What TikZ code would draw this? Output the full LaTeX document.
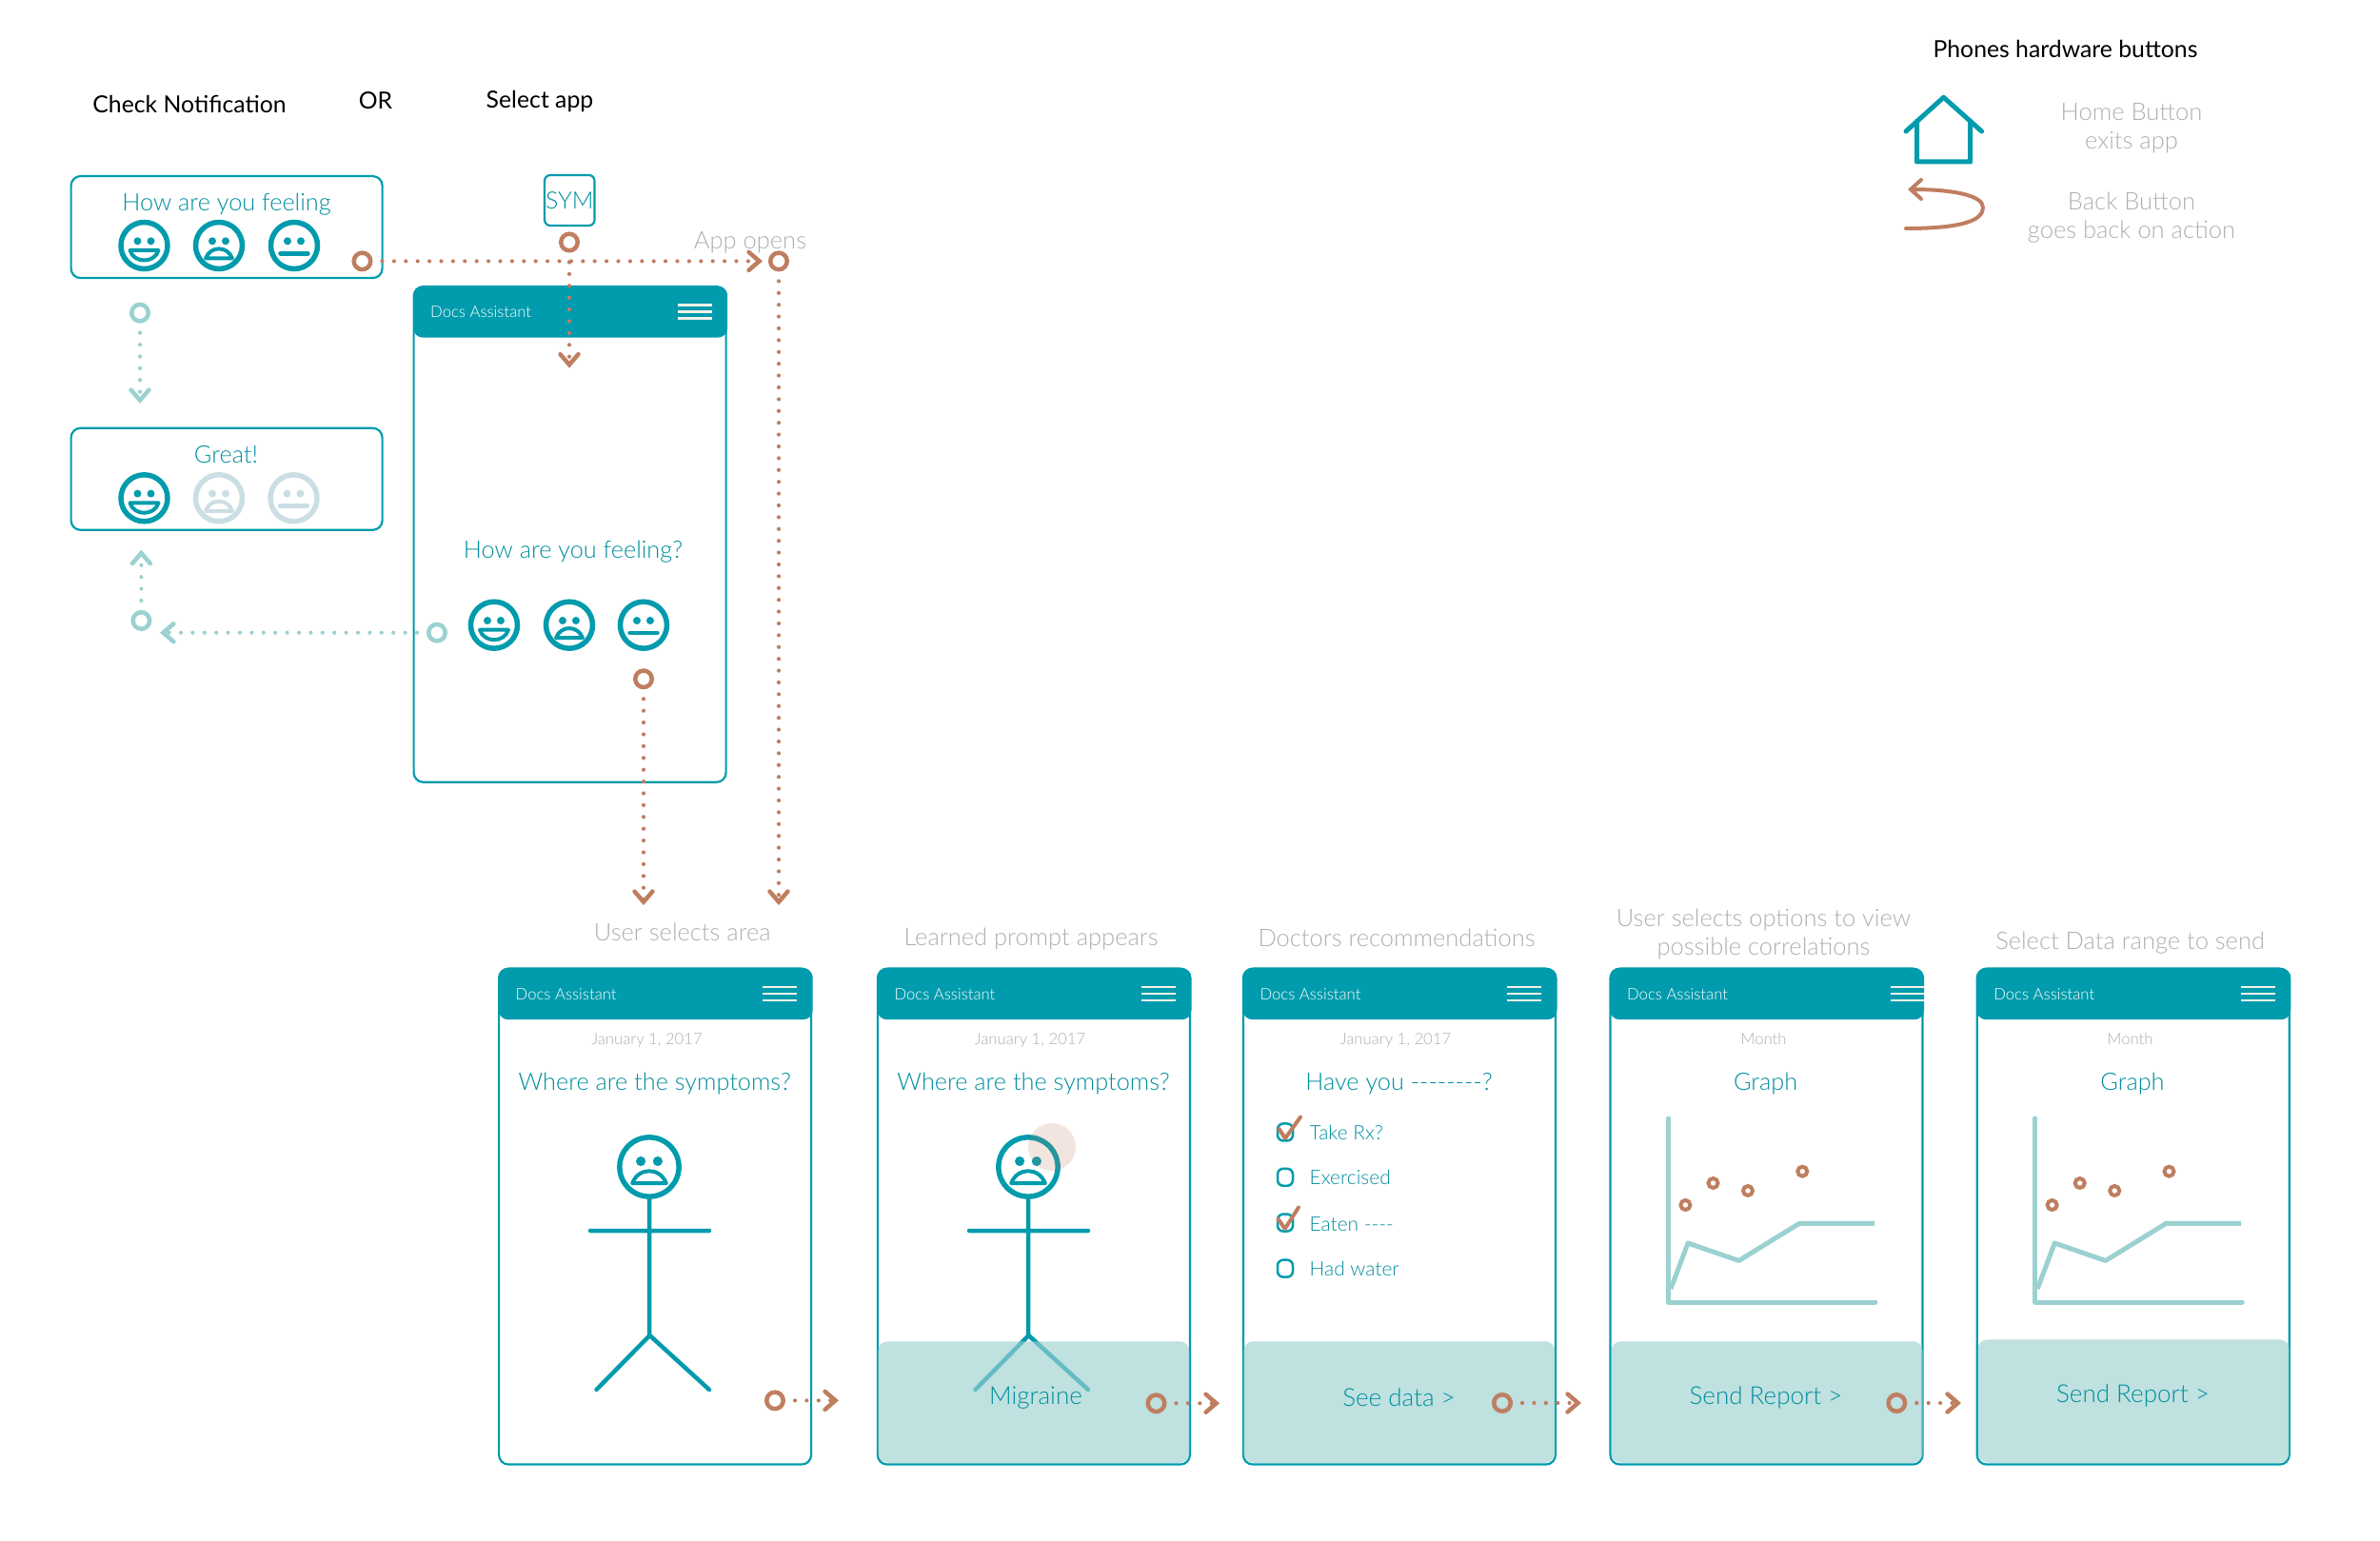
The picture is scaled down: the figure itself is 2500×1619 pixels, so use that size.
\documentclass[tikz,border=0pt]{standalone}
\usepackage{fontspec}
\setmainfont{Lato}[UprightFont=* Light]
\newfontfamily\headfont{Lato}
\usetikzlibrary{positioning,calc,arrows.meta}

\definecolor{appteal}{HTML}{009BAC}
\definecolor{apptext}{HTML}{008E9E}
\definecolor{appbrown}{HTML}{BF7E60}
\definecolor{applight}{HTML}{9BD1D0}
\definecolor{appgray}{HTML}{ABB0B4}
\definecolor{appfade}{HTML}{CBDEE4}
\definecolor{appcream}{HTML}{F4F1E8}

\tikzset{
  phonebody/.style={draw=appteal,line width=.22mm,rounded corners=1mm,fill=white,anchor=north west,minimum width=32.8mm,inner sep=0},
  phonehead/.style={fill=appteal,rounded corners=1mm,anchor=north west,minimum width=33mm,minimum height=5.4mm,inner sep=0},
  panel/.style={fill=applight,fill opacity=.64,rounded corners=1mm,anchor=south east,minimum width=32.7mm,inner sep=0},
  headtext/.style={text=white,inner sep=0,font=\fontsize{4.75}{6}\selectfont},
  title/.style={inner sep=0,text=black,font=\headfont\fontsize{7.05}{9}\selectfont},
  caption/.style={inner sep=0,text=appgray,align=center,font=\fontsize{7.25}{8.55}\selectfont},
  datetext/.style={inner sep=0,text=appgray,font=\fontsize{4.75}{6}\selectfont},
  question/.style={inner sep=0,text=apptext,yshift=-.2mm,font=\fontsize{7.2}{9}\selectfont},
  action/.style={question,font=\fontsize{7.4}{9}\selectfont},
  item/.style={inner sep=0,text=apptext,anchor=west,font=\fontsize{5.95}{8}\selectfont},
  tick/.style={draw=appteal,line width=.25mm,rounded corners=.6mm,minimum width=1.6mm,minimum height=1.8mm,inner sep=0},
  card/.style={draw=appteal,line width=.22mm,rounded corners=1mm,anchor=north west,inner sep=0},
  ringb/.style={circle,draw=appbrown,line width=.45mm,minimum size=1.75mm,inner sep=0},
  ringl/.style={circle,draw=applight,line width=.45mm,minimum size=1.75mm,inner sep=0},
  flowb/.style={draw=appbrown,line width=.42mm,line cap=round,dash pattern=on 0mm off 1.24mm,shorten <=1mm,-{Straight Barb[length=1.1mm,width=1.9mm,line width=.45mm,line cap=round]}},
  flowl/.style={flowb,draw=applight},
  checkmark/.style={draw=appbrown,line width=.4mm,line cap=round,line join=round},
  burger/.style={draw=appcream,line width=.25mm},
  happyface/.pic={
    \draw[line width=.55mm] (0,0) circle (24.5);
    \fill (-7,-4.7) circle (4) (7,-4.7) circle (4);
    \draw[line width=.4mm,line join=round] (-15,5) -- (15,5) .. controls (11,19) and (-11,19) .. cycle;
  },
  sadface/.pic={
    \draw[line width=.55mm] (0,0) circle (24.5);
    \fill (-7,-4.7) circle (4) (7,-4.7) circle (4);
    \draw[line width=.4mm,line join=round] (-14,13.5) .. controls (-9,0) and (9,0) .. (14,13.5) -- cycle;
  },
  flatface/.pic={
    \draw[line width=.55mm] (0,0) circle (24.5);
    \fill (-7,-4.7) circle (4) (7,-4.7) circle (4);
    \draw[line width=.45mm,line cap=round] (-14.5,8.3) -- (14.5,8.3);
  },
  stickman/.pic={
    \pic[scale=1.27] at (0,0) {sadface};
    \draw[line width=.45mm,line cap=round,line join=round]
      (0,33) -- (0,177) (-62,67) -- (63,67)
      (-55.5,234) -- (0.5,177) -- (63,234);
  },
  chart/.pic={
    \draw[draw=applight,line width=.5mm,line join=round,line cap=round] (1752.6,1175) -- (1752.6,1368) -- (1970,1368);
    \draw[draw=applight,line width=.5mm,line join=round] (1755,1354) -- (1773,1306) -- (1826.5,1324.5) -- (1890,1285.4) -- (1969,1285.4);
    \foreach \dotx/\doty in {1770.4/1266,1799.5/1243,1836/1251,1893.3/1230.7}
      \draw[draw=appbrown,line width=.4mm] (\dotx,\doty) circle (5);
  }
}

% name, left, top, height, burger inset
\newcommand{\mobile}[5]{
  \node[phonebody,minimum height=#4mm] (#1) at (#2,#3) {};
  \node[phonehead] (#1head) at (#2,#3) {};
  \node[headtext,right=1.8mm of #1head.west] (#1name) {Docs Assistant};
  \foreach \dy in {-7,0,7}
    \draw[burger] ($(#1head.east)+(-#5-36,\dy)$) -- ++(36,0);
}

\begin{document}
\begin{tikzpicture}[x=.1mm,y=-.1mm]
  \useasboundingbox (0,0) rectangle (2500,1619);

  % column heads
  \node[title] (check) at (199,109) {Check Notification};
  \node[title] (or) at (394.5,106) {OR};
  \node[title] (select) at (567,107) {Select app};
  \node[title] (hardware) at (2169.5,51.7) {Phones hardware buttons};

  % hardware buttons
  \draw[draw=appteal,line width=.5mm,line cap=round,line join=round]
    (2002,138) -- (2041.6,102.3) -- (2081.6,138)
    (2013.5,127) -- (2013.5,170) -- (2069.7,170) -- (2069.7,127);
  \draw[draw=appbrown,line width=.4mm,line cap=round,-{Straight Barb[length=1.1mm,width=2mm,line width=.4mm,line cap=round]}]
    (2002,240) .. controls (2060,240) and (2083,232) .. (2083,218) .. controls (2083,205) and (2050,199) .. (2004,199);
  \node[caption] (homebutton) at (2239,134.5) {Home Button\\exits app};
  \node[caption] (backbutton) at (2239,228.5) {Back Button\\goes back on action};

  % notification cards
  \node[card,minimum width=32.7mm,minimum height=10.7mm] (notify) at (73.5,184) {};
  \node[question] (notifytext) at (238,213) {How are you feeling};
  \pic[color=appteal] at (151.5,258) {happyface};
  \pic[color=appteal] at (230,258) {sadface};
  \pic[color=appteal] at (309,258) {flatface};
  \node[card,minimum width=32.7mm,minimum height=10.7mm] (great) at (73.5,448.7) {};
  \node[question] (greattext) at (237.5,476) {Great!};
  \pic[color=appteal] at (151.5,523.3) {happyface};
  \pic[color=appfade] at (230,523.3) {sadface};
  \pic[color=appfade] at (308.5,523.3) {flatface};
  \node[card,rounded corners=.6mm,anchor=center,minimum width=5.25mm,minimum height=5.3mm,text=apptext,font=\fontsize{7.1}{9}\selectfont] (sym) at (598.3,210.5) {SYM};

  % first phone
  \mobile{feeling}{433.5}{300}{52.07}{17}
  \node[question] (feelingtext) at (602,578) {How are you feeling?};
  \pic[color=appteal] at (519,656.7) {happyface};
  \pic[color=appteal] at (598,656.7) {sadface};
  \pic[color=appteal] at (676,656.7) {flatface};

  % bottom row
  \mobile{area}{523}{1016.5}{52.1}{17}
  \mobile{prompt}{920.8}{1016.5}{52.1}{17}
  \mobile{doctors}{1304.8}{1016.5}{52.1}{17}
  \mobile{graphone}{1690.4}{1016.5}{52.1}{0}
  \mobile{graphtwo}{2075.6}{1016.5}{52.1}{17}

  \node[caption] (areacap) at (716.8,979.5) {User selects area};
  \node[caption] (promptcap) at (1083,986) {Learned prompt appears};
  \node[caption] (doctorscap) at (1467,985) {Doctors recommendations};
  \node[caption] (graphonecap) at (1852.5,981.5) {User selects options to view\\possible correlations};
  \node[caption] (graphtwocap) at (2237.6,990.6) {Select Data range to send};

  \node[datetext] (areadate) at (679.5,1092.6) {January 1, 2017};
  \node[datetext] (promptdate) at (1082,1092.6) {January 1, 2017};
  \node[datetext] (doctorsdate) at (1466,1092.6) {January 1, 2017};
  \node[datetext] (graphonedate) at (1852.5,1091.6) {Month};
  \node[datetext] (graphtwodate) at (2237.5,1091.6) {Month};

  \node[question] (areatext) at (687.7,1136.5) {Where are the symptoms?};
  \node[question] (prompttext) at (1085.5,1136.5) {Where are the symptoms?};
  \node[question] (doctorstext) at (1469.5,1136.5) {Have you {-}{-}{-}{-}{-}{-}{-}{-}?};
  \node[question] (graphonetext) at (1854.6,1136.5) {Graph};
  \node[question] (graphtwotext) at (2240,1136.5) {Graph};

  \pic[color=appteal] at (682,1226) {stickman};
  \pic[color=appteal] at (1080,1226) {stickman};
  \fill[appbrown,opacity=.2] (1105,1205) circle (25);

  % checklist
  \node[tick] (box1) at (1350,1189.5) {};
  \node[tick] (box2) at (1350,1236.8) {};
  \node[tick] (box3) at (1350,1284.6) {};
  \node[tick] (box4) at (1350,1332.7) {};
  \node[item] (item1) at (1375,1190) {Take Rx?};
  \node[item] (item2) at (1375,1237.3) {Exercised};
  \node[item] (item3) at (1375,1286.6) {Eaten {-}{-}{-}{-}};
  \node[item] (item4) at (1375,1333.2) {Had water};
  \draw[checkmark] (1343.5,1186) -- (1350,1196) -- (1366,1173.6);
  \draw[checkmark] (1342.5,1280.5) -- (1349.7,1291) -- (1364,1268.6);

  \pic at (0,0) {chart};
  \pic at (385.2,0) {chart};

  % bottom panels
  \node[panel,minimum height=12.75mm] (promptpanel) at (1250,1537.5) {};
  \node[panel,minimum height=12.75mm] (doctorspanel) at (1634,1537.5) {};
  \node[panel,minimum height=12.75mm] (graphonepanel) at (2020.3,1537.5) {};
  \node[panel,minimum height=12.95mm] (graphtwopanel) at (2405.4,1537.5) {};
  \node[action] (migraine) at (1088,1467) {Migraine};
  \node[action] (seedata) at (1469.5,1466.5) {See data >};
  \node[action] (sendone) at (1855,1466) {Send Report >};
  \node[action] (sendtwo) at (2240.5,1464) {Send Report >};

  % flow rings
  \node[ringb] (r1) at (380.5,274.4) {};
  \node[ringb] (r2) at (598,254.5) {};
  \node[ringb] (r3) at (818,274.4) {};
  \node[ringb] (r4) at (676,713.3) {};
  \node[ringl] (l1) at (147,328.7) {};
  \node[ringl] (l2) at (459,664.7) {};
  \node[ringl] (l3) at (148.4,652) {};
  \node[ringb] (r5) at (814,1471.4) {};
  \node[ringb] (r6) at (1214.5,1474.3) {};
  \node[ringb] (r7) at (1578,1474) {};
  \node[ringb] (r8) at (1992.3,1474) {};

  \coordinate (openend) at (801,274.4);
  \coordinate (append) at (598,386.6);
  \coordinate (topend) at (818,951);
  \coordinate (areaend) at (676,951);
  \coordinate (greatend) at (147,424);
  \coordinate (backend) at (168,664.7);
  \coordinate (upend) at (148.4,577.7);
  \coordinate (e5) at (881,1471.4);
  \coordinate (e6) at (1281,1474.3);
  \coordinate (e7) at (1661,1474);
  \coordinate (e8) at (2060,1474);

  \begin{scope}[flowb]
    \draw (r1) -- (openend);
    \draw (r2) -- (append);
    \draw (r3) -- (topend);
    \draw (r4) -- (areaend);
    \draw (r5) -- (e5);
    \draw (r6) -- (e6);
    \draw (r7) -- (e7);
    \draw (r8) -- (e8);
  \end{scope}
  \begin{scope}[flowl]
    \draw (l1) -- (greatend);
    \draw (l2) -- (backend);
    \draw (l3) -- (upend);
  \end{scope}

  \node[caption] (appopens) at (788,254.5) {App opens};
\end{tikzpicture}
\end{document}
